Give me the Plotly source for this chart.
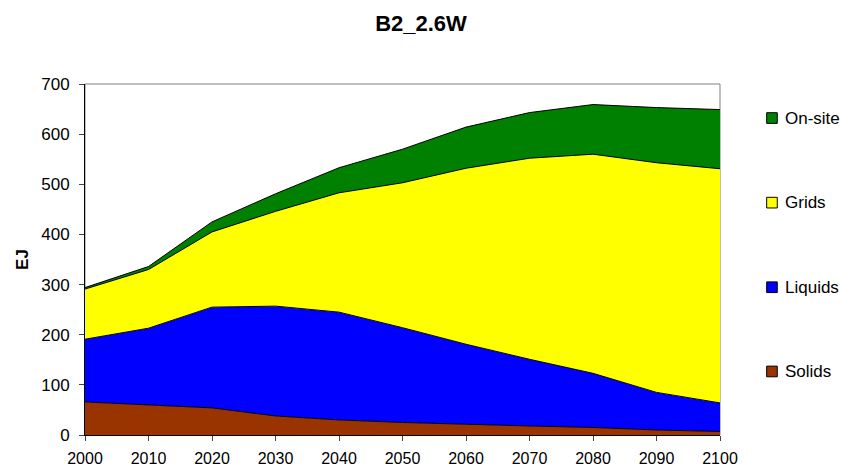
import plotly.graph_objects as go

years = [2000, 2010, 2020, 2030, 2040, 2050, 2060, 2070, 2080, 2090, 2100]

# EJ per carrier
solids = [66, 60, 54, 38, 30, 25, 21, 18, 15, 10, 7]
liquids = [125, 153, 201, 219, 215, 189, 160, 133, 108, 75, 57]
grids = [100, 117, 150, 189, 238, 289, 351, 401, 437, 458, 467]
onsite = [3, 6, 20, 35, 50, 67, 82, 91, 99, 110, 118]

series = [
    ("Solids", solids, "#993300"),
    ("Liquids", liquids, "#0000FF"),
    ("Grids", grids, "#FFFF00"),
    ("On-site", onsite, "#008000"),
]
# legend rows (paper y), bottom to top like the series
legend_y = [0.181, 0.421, 0.662, 0.903]

fig = go.Figure()
for name, vals, col in series:
    fig.add_trace(go.Scatter(
        x=years, y=vals, name=name, showlegend=False,
        mode="lines", stackgroup="one",
        line=dict(color="black", width=1),
        fillcolor=col,
    ))

# hand-made legend: small black-edged squares + labels
for (name, vals, col), ly in zip(series, legend_y):
    fig.add_shape(type="rect", xref="paper", yref="paper",
                  x0=1.0735, x1=1.0902, y0=ly - 0.0152, y1=ly + 0.0152,
                  fillcolor=col, line=dict(color="black", width=1))
    fig.add_annotation(text=name, xref="paper", yref="paper", x=1.0987, y=ly,
                       xanchor="left", yanchor="middle", showarrow=False,
                       font=dict(size=17))

fig.update_layout(
    width=842, height=468,
    margin=dict(l=85, r=122, t=84, b=33, autoexpand=False),
    paper_bgcolor="white", plot_bgcolor="white",
    font=dict(family="Liberation Sans, Arial, sans-serif", size=16, color="black"),
    title=dict(text="<b>B2_2.6W</b>", x=0.5, xanchor="center",
               y=0.95, yanchor="middle", font=dict(size=22)),
    showlegend=False,
)
fig.update_xaxes(
    range=[2000, 2100], tickvals=years, ticks="outside", ticklen=5,
    ticklabelstandoff=4,
    showline=True, linecolor="black", showgrid=False, zeroline=False,
)
fig.update_yaxes(
    range=[0, 700], dtick=100, ticks="outside", ticklen=5,
    ticklabelstandoff=6, tickfont=dict(size=17),
    showline=True, linecolor="black", showgrid=False, zeroline=False,
    title=dict(text="<b>EJ</b>", standoff=8, font=dict(size=17)),
)
# grey top/right frame of the plot area
fig.add_shape(type="rect", xref="paper", yref="paper", x0=0, y0=0, x1=1, y1=1,
              line=dict(color="#808080", width=1), layer="below")

# drop the default 8px page margin so the figure fills the window exactly
fig.write_html("out.html", config={"displayModeBar": False},
               post_script="document.body.style.margin='0';"
                           "document.body.style.overflow='hidden';")
